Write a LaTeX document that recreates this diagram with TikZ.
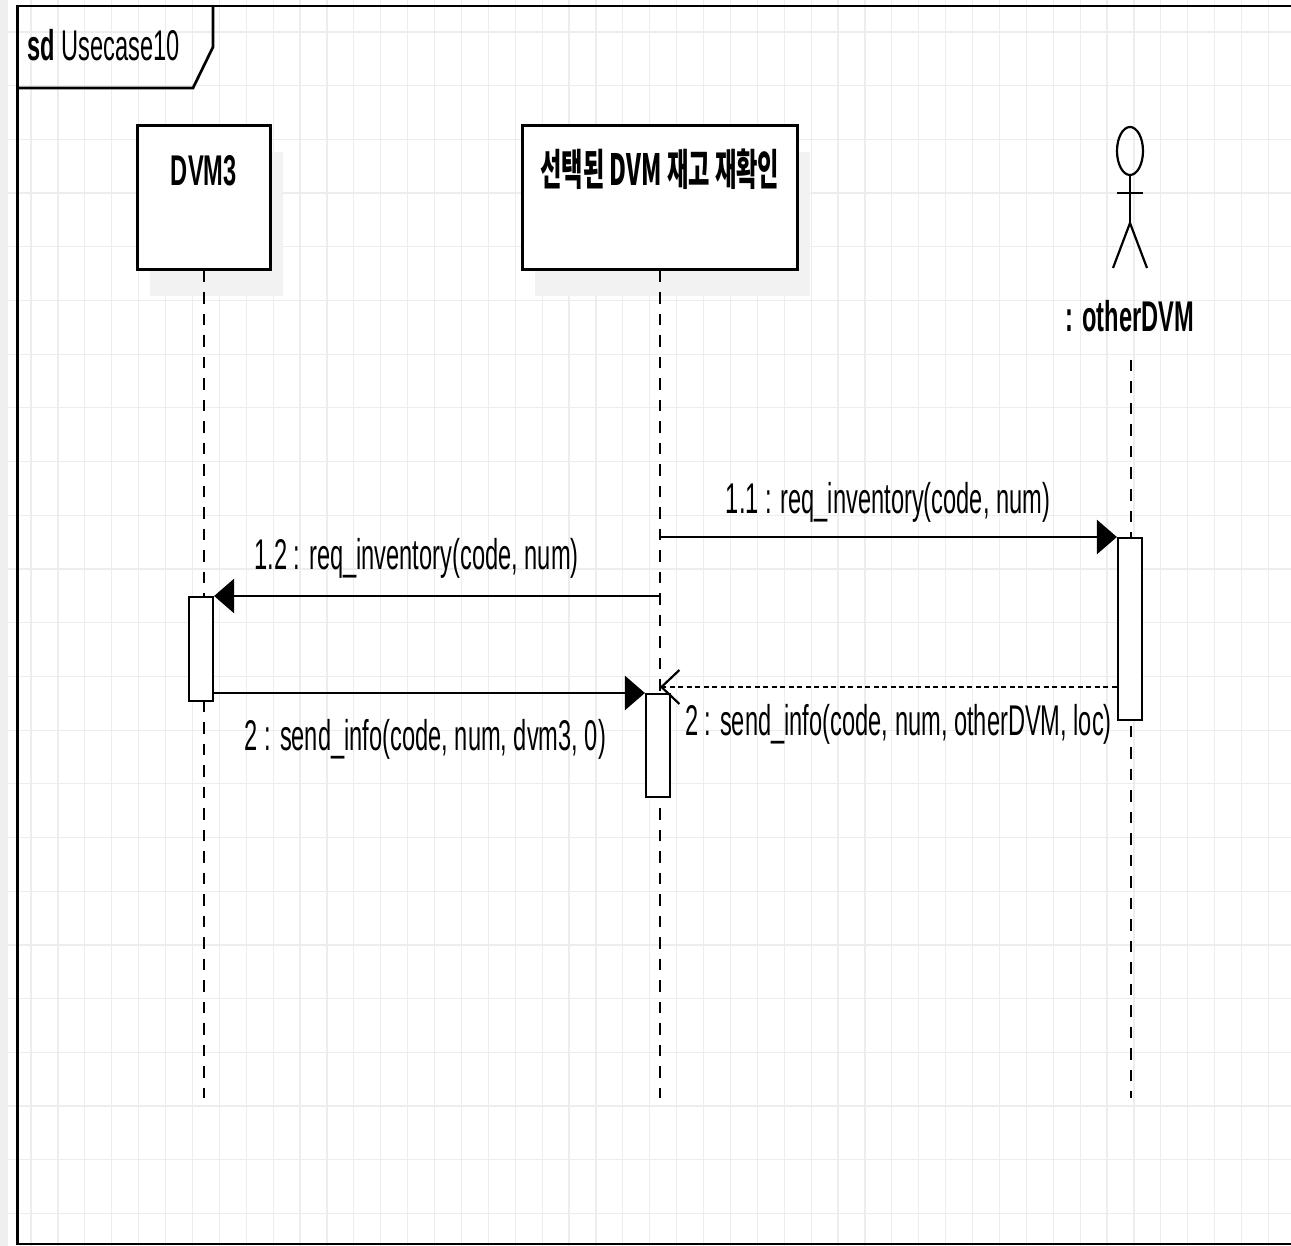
\documentclass[tikz,border=0pt]{standalone}
\usepackage{fontspec}
\setmainfont{Liberation Sans}[FakeStretch=0.55]
\newfontfamily\korfont{Noto Sans CJK KR}[FakeStretch=0.54]
\usetikzlibrary{arrows.meta, shadows}
\definecolor{gridgray}{HTML}{EDEDED}
\definecolor{stripgray}{HTML}{EEF0EF}
\definecolor{shadowgray}{HTML}{F2F2F2}
\tikzset{
  lifebox/.style = {rectangle, draw, line width=2.7pt, fill=white, inner sep=0pt, text height=60pt, text depth=84pt, font=\fontsize{43}{50}\selectfont\bfseries, general shadow={fill=shadowgray, shadow xshift=13pt, shadow yshift=-27pt}},
  actbar/.style = {rectangle, draw, line width=2.2pt, fill=white, inner sep=0pt, minimum width=24pt},
  lifeline/.style = {line width=2.2pt, dash pattern=on 11.5pt off 10pt},
  callmsg/.style = {line width=2.8pt, -{Triangle[length=20pt, width=34pt]}},
  retmsg/.style = {line width=2.5pt, dash pattern=on 5pt off 3.5pt, -{Straight Barb[length=18pt, width=34pt, line width=2.2pt]}},
  msglbl/.style = {anchor=base, inner sep=0pt},
  gridline/.style = {gridgray, line width=1.2pt},
  framebox/.style = {line width=2.7pt}
}
\begin{document}
\begin{tikzpicture}[x=1pt, y=-1pt, font=\fontsize{43}{50}\selectfont]
  \useasboundingbox (0,0) rectangle (1291,1246);
  \clip (0,0) rectangle (1291,1246);
  \fill[white] (0,0) rectangle (1291,1246);
  \fill[stripgray] (0,0) rectangle (8,1246);
  % grid
  \foreach \i in {0,...,46}
    \draw[gridline] ({31+26.9*\i},0) -- ++(0,1246);
  \foreach \j in {0,...,22}
    \draw[gridline] (8,{32+53.7*\j}) -- ++(1283,0);
  % frame
  \draw[framebox] (1300,6) -- (17.5,6) -- (17.5,1244) -- (1300,1244);
  \draw[framebox] (17.5,88) -- (193,88) -- (213,47) -- (213,6);
  \node[anchor=base west, inner sep=0pt] (title) at (27,61) {\textbf{sd} Usecase10};
  % heads
  \node[lifebox, minimum width=133pt, anchor=north west] (dvm) at (136,124) {DVM3};
  \node[lifebox, minimum width=275pt, anchor=north west] (sel) at (521,124) {\korfont 선택된 DVM 재고 재확인};
  \draw[line width=2.2pt] (1130,151) ellipse [x radius=13, y radius=24];
  \draw[line width=2.2pt] (1117,193) -- (1143,193);
  \draw[line width=2.2pt] (1130,175) -- (1130,223);
  \draw[line width=2.2pt] (1113,268) -- (1130,223) -- (1147,268);
  \node[msglbl, font=\fontsize{43}{50}\selectfont\bfseries] (oth) at (1130,332) {: otherDVM};
  % lifelines
  \coordinate (lifeend) at (0,1098);
  \coordinate (othtop) at (1131,360);
  \draw[lifeline] (dvm.south) -- (dvm.south |- lifeend);
  \draw[lifeline] (sel.south) -- (sel.south |- lifeend);
  \draw[lifeline] (othtop) -- (othtop |- lifeend);
  % activations
  \node[actbar, minimum height=104pt, anchor=north] (dvmact) at (201,596) {};
  \node[actbar, minimum height=103pt, anchor=north] (selact) at (658,693) {};
  \node[actbar, minimum height=182pt, anchor=north] (othact) at (1130,537) {};
  % messages
  \draw[callmsg] (sel.south |- othact.north) -- (othact.north west);
  \draw[callmsg] (sel.south |- dvmact.north) -- (dvmact.north east);
  \draw[callmsg] (dvmact.east |- selact.north) -- (selact.north west);
  \coordinate (ret) at (0,687);
  \draw[retmsg] (othact.west |- ret) -- (sel.south |- ret);
  \node[msglbl] (m11) at (888,513) {1.1 : req\_inventory(code, num)};
  \node[msglbl] (m12) at (416.5,569) {1.2 : req\_inventory(code, num)};
  \node[msglbl] (m2a) at (425.5,750) {2 : send\_info(code, num, dvm3, 0)};
  \node[msglbl] (m2b) at (898.5,735) {2 : send\_info(code, num, otherDVM, loc)};
\end{tikzpicture}
\end{document}
